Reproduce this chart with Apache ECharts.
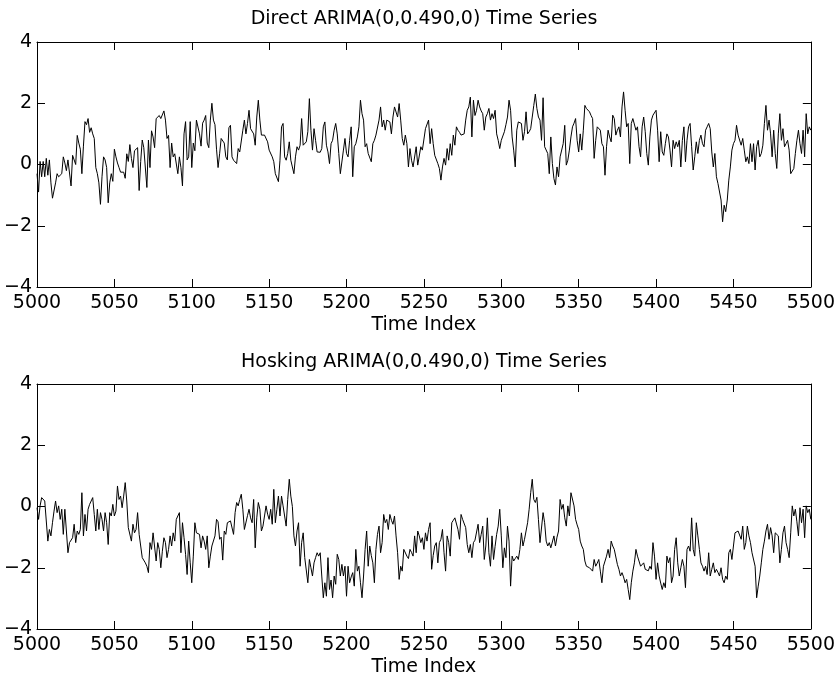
<!DOCTYPE html>
<html>
<head>
<meta charset="utf-8">
<script src="https://cdn.jsdelivr.net/npm/echarts@6/dist/echarts.min.js"></script>
<style>
html,body{margin:0;padding:0;background:#fff;}
#chart{width:838px;height:681px;}
</style>
</head>
<body>
<div id="chart"></div>
<script>
// ---- data (time index 5000..5500) ----
const startIndex = 5000;
const xTicks = [5000, 5050, 5100, 5150, 5200, 5250, 5300, 5350, 5400, 5450, 5500];
const yTicks = [-4, -2, 0, 2, 4];
const topTitle = 'Direct ARIMA(0,0.490,0) Time Series';
const bottomTitle = 'Hosking ARIMA(0,0.490,0) Time Series';
const xLabel = 'Time Index';

// Direct series, indices 5000-5124
const directA = [
-0.3,-0.9,0.1,-0.4,0.1,-0.4,0.2,-0.35,0.15,-0.6,
-1.1,-1.05,-0.6,-0.3,-0.4,-0.35,-0.3,0.25,0.05,-0.2,
0.15,0.1,-0.7,0.3,0.35,0,0.95,0.7,0.5,-0.3,
0.6,1.4,1.3,1.5,1.05,1.2,1.0,0.85,-0.1,-0.3,
-0.6,-1.3,-0.4,0.25,0.15,-0.1,-1.25,-0.6,-0.3,-0.55,
0.5,0.25,0.05,-0.1,-0.25,-0.3,-0.25,-0.45,0.35,0.1,
0.65,0.2,-0.1,0.45,0.4,0.55,-0.85,0.1,0.8,0.55,
0.5,-0.75,0.8,-0.1,1.1,0.9,0.55,1.5,1.55,1.6,
1.5,1.55,1.75,1.45,0.85,0.95,-0.1,0.7,0.25,0.35,
0.4,-0.3,0.25,-0.1,-0.7,1.0,1.4,0.15,0.25,1.4,
-0.1,0.7,0.45,1.45,1.5,1.0,0.6,1.35,1.45,1.6,
0.7,0.55,1.45,2.0,1.45,1.3,0.5,-0.1,0.35,0.85,
0.8,0.7,0.25,0.15,1.2
];
// Direct series, indices 5125-5243
const directB = [
1.28,0.25,0.14,0.2,0.03,0.52,0.41,0.45,1.12,1.45,
1.0,1.34,1.77,1.17,1.23,1.0,0.63,1.55,2.1,1.45,
0.96,1.0,0.96,0.9,0.74,0.47,0.52,0.25,0.09,-0.3,
-0.27,-0.56,0.14,1.23,1.34,0.25,0.14,0.36,0.74,0.14,
-0.08,-0.3,0.25,0.58,0.47,0.63,1.5,0.63,0.58,0.74,
1.07,2.15,1.12,0.47,1.17,0.79,0.41,0.35,0.4,0.52,
1.23,1.39,0.63,0.41,0.03,0.68,0.79,1.12,1.34,1.0,
0.36,-0.3,-0.25,0.47,0.85,0.36,0.25,0.79,1.23,-0.4,
0.58,0.68,0.9,1.23,2.1,1.66,1.45,0.58,0.68,0.36,
0.41,0.09,0.68,0.79,0.96,0.9,1.45,1.88,1.23,1.45,
1.12,1.45,1.5,1.39,1.0,1.55,1.88,1.93,1.55,1.99,
1.45,0.85,0.63,0.96,0.68,-0.08,0.52,0.14,-0.08
];
// Direct series, indices 5244-5366
const directC = [
-0.13,0.58,-0.02,-0.08,0.58,0.47,0.5,1.17,1.23,1.45,
0.68,1.17,0.68,0.3,0.36,0.03,-0.13,-0.51,-0.08,0.2,
-0.02,0.52,0.14,0.68,0.3,0.96,0.63,1.23,1.12,1.05,
0.96,0.9,1.0,1.45,1.77,1.88,2.2,0.9,2.1,1.6,
1.77,2.1,1.88,1.75,1.66,1.12,1.55,1.66,1.83,1.45,
1.66,1.5,1.77,1.0,0.79,0.52,0.79,0.75,1.07,1.3,
1.55,2.1,1.77,0.9,0.47,-0.08,1.12,1.39,1.45,1.34,
0.79,1.07,1.72,1.0,1.07,1.17,1.55,1.93,2.3,1.83,
1.55,1.45,0.79,2.18,0.58,0.55,0.36,-0.3,0.9,0.03,
-0.46,-0.67,-0.08,-0.4,0.25,0.3,0.68,1.28,-0.02,0.14,
0.47,0.9,1.23,1.35,1.5,0.79,0.41,1.0,0.47,1.12,
1.93,1.83,1.77,1.72,1.6,1.5,0.2,0.79,1.23,1.17,
1.12,0.68,0.58
];
// Direct series, indices 5367-5500
const directD = [
-0.35,0.58,1.12,0.9,0.74,1.61,1.5,0.96,1.12,1.23,
0.9,1.88,2.37,1.77,1.23,1.34,0.03,1.34,1.5,1.55,
1.12,1.23,0.58,0.25,1.23,1.55,1.07,0.36,-0.02,0.9,
1.45,1.61,1.55,1.77,1.12,0.09,1.07,0.41,0.3,0.68,
1.0,0.9,0.47,-0.08,0.79,0.52,0.74,0.58,0.79,-0.08,
0.79,1.23,0.09,0.79,1.23,1.34,0.58,-0.18,0.25,0.74,
0.36,0.79,0.96,0.68,0.58,1.12,1.23,1.34,1.17,0.41,
-0.08,0.36,-0.4,-0.62,-0.67,-1.16,-1.87,-1.33,-1.54,-1.16,
-0.51,-0.08,0.47,0.68,0.79,1.28,0.96,0.9,0.63,0.85,
0.47,0.09,0.25,0.03,0.68,0.09,0.68,-0.18,0.58,0.79,
0.25,0.36,0.63,1.34,1.93,1.12,1.45,1.0,0.25,1.12,
0.36,-0.13,1.0,1.66,0.79,1.17,0.58,0.68,0.79,0.47,
-0.3,-0.24,-0.13,0.36,0.79,1.12,0.68,0.36,1.12,0.25,
1.66,1.0,1.23,1.12
];

// Hosking series, indices 5000-5124
const hoskingA = [
-0.04,-0.42,0.02,0.29,0.25,0.18,0.15,-1.13,-0.75,-0.96,
-0.53,-0.15,0.18,-0.2,0.02,-0.42,-0.09,-0.91,-0.09,-0.12,
-1.51,-1.18,-1.13,-1.02,-0.58,-1.18,-0.8,-0.91,-0.75,0.45,
-0.96,-0.26,-0.8,-0.09,0.07,0.18,0.29,-0.26,-0.8,-0.09,
-0.75,-0.2,-0.42,-0.8,-0.2,-0.53,-1.24,-0.2,-0.31,0.07,
-0.31,-0.15,0.67,0.23,0.34,-0.04,0.34,0.78,0.18,-0.69,
-0.65,-1.13,-0.58,-0.86,-0.75,-0.2,-0.91,-1.29,-1.67,-1.73,
-1.84,-1.95,-2.16,-1.18,-1.4,-0.86,-0.91,-1.78,-1.18,-1.4,
-2.0,-1.46,-1.02,-1.18,-1.67,-1.4,-0.96,-1.29,-0.86,-1.13,
-0.42,-0.47,-0.2,-1.51,-0.53,-1.02,-1.56,-2.22,-1.13,-1.84,
-2.49,-1.62,-0.53,-0.86,-0.8,-0.91,-1.35,-0.96,-1.13,-1.4,
-0.96,-2.0,-1.62,-1.29,-1.35,-0.96,-0.42,-0.5,-1.07,-1.0,
-1.75,-0.8,-0.91,-0.53,-0.5
];
// Hosking series, indices 5125-5243
const hoskingB = [
-0.47,-0.53,-0.91,-0.2,0.13,0.02,0.23,0.4,-0.09,-0.75,
-0.69,-0.3,-0.09,-0.37,-0.53,0.23,-1.35,-0.37,0.13,-0.09,
-0.8,-0.64,-0.31,0.02,-0.25,-0.42,-0.09,-0.58,0.56,-0.53,
-0.09,0.34,-0.31,0.34,0.02,-0.31,-0.64,0.23,0.89,0.34,
0.0,-0.96,-1.29,-0.8,-0.53,-1.95,-1.18,-0.86,-1.67,-1.73,
-2.49,-1.73,-2.0,-2.27,-1.84,-1.67,-1.51,-1.62,-1.51,-2.27,
-2.98,-2.49,-2.93,-1.67,-2.71,-2.4,-2.98,-2.27,-2.54,-1.56,
-1.73,-2.27,-1.89,-2.27,-1.95,-2.93,-1.95,-2.49,-2.3,-2.16,
-2.6,-1.4,-2.11,-1.95,-2.49,-2.98,-2.27,-1.4,-0.8,-1.95,
-1.29,-1.6,-1.84,-2.49,-1.4,-0.91,-0.64,-1.51,-1.18,-0.26,
-0.53,-0.42,-0.75,-0.26,-0.45,-0.58,-0.31,-0.96,-1.51,-2.38,
-1.95,-2.11,-1.4,-1.46,-1.62,-1.7,-1.4,-1.5,-1.62
];
// Hosking series, indices 5244-5366
const hoskingC = [
-0.96,-1.51,-0.8,-0.96,-1.18,-1.02,-1.4,-0.86,-1.13,-0.75,
-0.53,-2.05,-1.6,-1.29,-1.18,-1.84,-1.18,-1.07,-0.75,-1.51,
-2.11,-0.96,-1.18,-1.62,-0.53,-0.45,-0.37,-0.42,-0.75,-1.07,
-0.26,-0.42,-0.47,-0.69,-1.24,-1.51,-1.24,-1.67,-1.18,-1.1,
-1.07,-0.58,-1.18,-0.91,-0.64,-1.73,-1.29,-0.37,-1.51,-1.95,
-0.96,-1.73,-1.3,-0.91,-0.64,-0.09,-0.96,-2.0,-1.35,-1.67,
-0.64,-1.13,-2.6,-1.62,-1.78,-1.7,-1.62,-1.73,-1.4,-0.86,
-1.29,-1.07,-1.13,-0.53,-0.09,0.45,0.89,0.23,0.13,0.3,
-0.42,-1.18,-1.13,-0.2,-0.53,-1.13,-1.29,-1.18,-1.35,-1.4,
-0.96,-1.29,-1.0,-0.8,0.23,-0.09,0.07,-0.37,-0.64,0.02,
-0.31,0.45,0.5,0.02,-0.42,-0.6,-0.75,-1.13,-1.29,-1.4,
-1.78,-1.95,-1.89,-2.0,-1.95,-2.11,-1.73,-1.95,-1.85,-1.73,
-2.11,-2.49,-1.95
];
// Hosking series, indices 5367-5500
const hoskingD = [
-1.95,-1.62,-1.4,-1.67,-1.13,-1.29,-1.4,-1.45,-1.89,-2.05,
-2.27,-2.16,-2.3,-2.49,-2.38,-2.71,-3.04,-2.49,-2.11,-1.84,
-1.4,-1.62,-1.67,-1.95,-1.9,-1.84,-2.05,-2.0,-2.1,-1.95,
-2.05,-1.18,-1.62,-2.38,-1.84,-2.27,-2.5,-2.71,-2.49,-2.65,
-1.62,-1.84,-1.67,-2.49,-2.27,-1.4,-1.02,-1.84,-2.27,-2.0,
-1.73,-1.95,-2.65,-1.4,-1.29,-1.46,-0.37,-1.4,-1.62,-0.53,
-0.96,-1.4,-1.84,-1.95,-2.11,-1.95,-2.22,-1.51,-2.27,-2.05,
-1.84,-2.16,-2.05,-2.15,-2.27,-2.0,-2.38,-2.49,-2.27,-2.38,
-1.51,-1.4,-1.73,-1.29,-0.86,-0.91,-0.8,-0.75,-1.07,-0.64,
-1.4,-1.18,-0.64,-0.96,-1.18,-1.51,-1.56,-1.95,-2.98,-2.6,
-2.27,-1.84,-1.4,-1.13,-0.8,-0.58,-1.07,-0.69,-0.96,-1.51,
-0.86,-0.9,-0.96,-1.84,-1.4,-0.86,-0.64,-1.18,-1.4,-1.67,
-0.86,0.02,-0.31,-0.09,-0.5,-0.96,-0.04,-0.53,-0.09,-1.02,
0.02,-0.2,-0.09,-0.42
];

// ---- build ----
const directValues = directA.concat(directB, directC, directD);
const hoskingValues = hoskingA.concat(hoskingB, hoskingC, hoskingD);
const toPairs = vals => vals.map((v, i) => [startIndex + i, v]);

const FONT = 'DejaVu Sans';
const FS = 19;
const xMin = xTicks[0], xMax = xTicks[xTicks.length - 1], xStep = xTicks[1] - xTicks[0];
const yMin = yTicks[0], yMax = yTicks[yTicks.length - 1], yStep = yTicks[1] - yTicks[0];
const minusFmt = v => String(v).replace('-', '\u2212');

const grids = [
  { left: 37, top: 42, width: 774, height: 245 },
  { left: 37, top: 384, width: 774, height: 245 }
];

function xAxes(gi) {
  const base = {
    type: 'value', gridIndex: gi, min: xMin, max: xMax, interval: xStep,
    splitLine: { show: false },
    axisLine: { show: true, onZero: false, lineStyle: { color: '#000', width: 1 } },
    axisTick: { show: true, inside: true, length: 8, lineStyle: { color: '#000', width: 1 } }
  };
  return [
    Object.assign({}, base, {
      position: 'bottom',
      name: xLabel, nameLocation: 'middle', nameGap: 29,
      nameTextStyle: { fontFamily: FONT, fontSize: FS, color: '#000' },
      axisLabel: { show: true, margin: 7, color: '#000', fontFamily: FONT, fontSize: FS,
                   formatter: v => String(v), showMinLabel: true, showMaxLabel: true }
    }),
    Object.assign({}, base, { position: 'top', axisLabel: { show: false } })
  ];
}
function yAxes(gi) {
  const base = {
    type: 'value', gridIndex: gi, min: yMin, max: yMax, interval: yStep,
    splitLine: { show: false },
    axisLine: { show: true, onZero: false, lineStyle: { color: '#000', width: 1 } },
    axisTick: { show: true, inside: true, length: 8, lineStyle: { color: '#000', width: 1 } }
  };
  return [
    Object.assign({}, base, {
      position: 'left',
      axisLabel: { show: true, margin: 5, color: '#000', fontFamily: FONT, fontSize: FS,
                   formatter: minusFmt, showMinLabel: true, showMaxLabel: true }
    }),
    Object.assign({}, base, { position: 'right', axisLabel: { show: false } })
  ];
}

const lineSeries = (name, vals, idx) => ({
  name: name, type: 'line', xAxisIndex: idx * 2, yAxisIndex: idx * 2,
  data: toPairs(vals), showSymbol: false, symbol: 'none',
  lineStyle: { color: '#000', width: 1 }, itemStyle: { color: '#000' },
  silent: true, animation: false
});

const chart = echarts.init(document.getElementById('chart'), null, { renderer: 'canvas' });
chart.setOption({
  backgroundColor: '#fff',
  animation: false,
  title: [
    { text: topTitle, left: 424, top: 10, padding: 0, textAlign: 'center', textVerticalAlign: 'top',
      textStyle: { fontFamily: FONT, fontSize: FS, fontWeight: 'normal', color: '#000' } },
    { text: bottomTitle, left: 424, top: 353, padding: 0, textAlign: 'center', textVerticalAlign: 'top',
      textStyle: { fontFamily: FONT, fontSize: FS, fontWeight: 'normal', color: '#000' } }
  ],
  grid: grids,
  xAxis: xAxes(0).concat(xAxes(1)),
  yAxis: yAxes(0).concat(yAxes(1)),
  series: [
    lineSeries('Direct', directValues, 0),
    lineSeries('Hosking', hoskingValues, 1)
  ]
});
</script>
</body>
</html>
